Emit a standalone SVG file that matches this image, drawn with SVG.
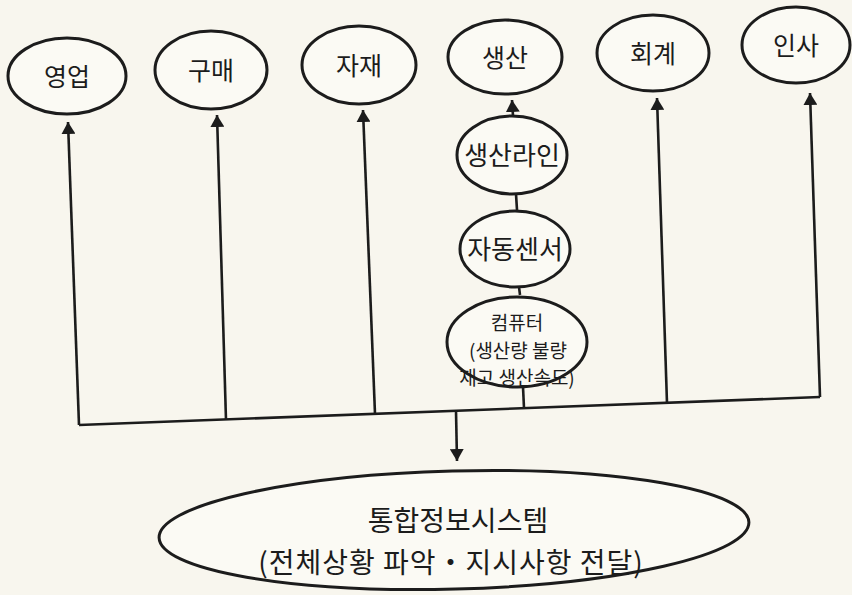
<svg xmlns="http://www.w3.org/2000/svg" width="852" height="595" viewBox="0 0 852 595">
<style>
.bg{fill:#f8f6ee}
.n{fill:#fbfaf4;stroke:#1c1c1c;stroke-width:3}
.t{font-family:"Noto Sans CJK KR","Noto Sans",sans-serif;fill:#1c1c1c;text-anchor:middle}
.c{fill:none;stroke:#1c1c1c;stroke-width:2.6}
</style>
<defs>
<marker id="ah" viewBox="0 0 12 14" refX="12" refY="7" markerWidth="12" markerHeight="14" markerUnits="userSpaceOnUse" orient="auto">
<path d="M0,0 L12,7 L0,14 Z" fill="#1c1c1c"/>
</marker>
</defs>
<rect class="bg" x="0" y="0" width="852" height="595"/>
<g id="connectors">
<path class="c" d="M79,425 L820,397"/>
<path class="c" d="M79,425 L68,122" marker-end="url(#ah)"/>
<path class="c" d="M226,420 L217,115" marker-end="url(#ah)"/>
<path class="c" d="M375,414 L363,110" marker-end="url(#ah)"/>
<path class="c" d="M667,403 L657,98" marker-end="url(#ah)"/>
<path class="c" d="M820,397 L810,93" marker-end="url(#ah)"/>
<path class="c" d="M524,408 L523,387"/>
<path class="c" d="M520,295 L519,287"/>
<path class="c" d="M517,210 L516,194"/>
<path class="c" d="M513,116 L512,100" marker-end="url(#ah)"/>
<path class="c" d="M456,411 L457,461" marker-end="url(#ah)"/>
</g>
<g id="n-sales">
<ellipse class="n" cx="67" cy="76" rx="59" ry="38"/>
<text class="t" x="67" y="86" font-size="25">영업</text>
</g>
<g id="n-purchase">
<ellipse class="n" cx="211" cy="70" rx="56" ry="39"/>
<text class="t" x="211" y="80" font-size="25">구매</text>
</g>
<g id="n-material">
<ellipse class="n" cx="359" cy="65" rx="57" ry="39"/>
<text class="t" x="359" y="75" font-size="25">자재</text>
</g>
<g id="n-production">
<ellipse class="n" cx="505" cy="57" rx="57" ry="37"/>
<text class="t" x="505" y="67" font-size="25">생산</text>
</g>
<g id="n-accounting">
<ellipse class="n" cx="653" cy="53" rx="56" ry="38"/>
<text class="t" x="653" y="63" font-size="25">회계</text>
</g>
<g id="n-hr">
<ellipse class="n" cx="796" cy="45" rx="54" ry="38"/>
<text class="t" x="796" y="55" font-size="25">인사</text>
</g>
<g id="n-line">
<ellipse class="n" cx="512" cy="155" rx="55" ry="39"/>
<text class="t" x="512" y="165" font-size="26">생산라인</text>
</g>
<g id="n-sensor">
<ellipse class="n" cx="515" cy="249" rx="55" ry="38"/>
<text class="t" x="515" y="259" font-size="26">자동센서</text>
</g>
<g id="n-computer">
<ellipse class="n" cx="517" cy="342" rx="70" ry="45"/>
<text class="t" x="517" y="330" font-size="19">컴퓨터</text>
<text class="t" x="518" y="358" font-size="19">(생산량 불량</text>
<text class="t" x="517" y="385" font-size="19">재고 생산속도)</text>
</g>
<g id="n-system">
<ellipse class="n" cx="454" cy="530" rx="295" ry="59" transform="rotate(-1.5 454 530)"/>
<text class="t" x="458" y="531" font-size="28">통합정보시스템</text>
<text class="t" x="451" y="573" font-size="28" letter-spacing="1">(전체상황 파악・지시사항 전달)</text>
</g>
</svg>
